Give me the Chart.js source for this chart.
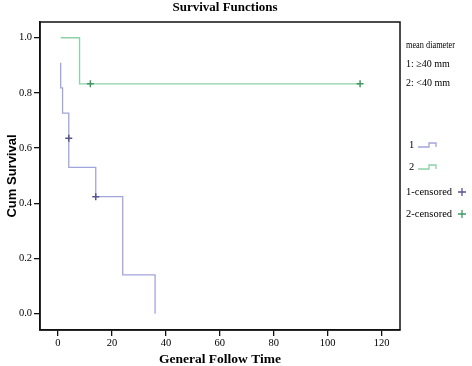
<!DOCTYPE html>
<html>
<head>
<meta charset="utf-8">
<script src="https://cdn.jsdelivr.net/npm/chart.js@4"></script>
<style>
  html, body { margin: 0; padding: 0; background: #fff; }
  #wrap { width: 472px; height: 366px; }
</style>
</head>
<body>
<div id="wrap"><canvas id="survivalChart" width="472" height="366"></canvas></div>
<script>
// Kaplan-Meier step vertices
const group1Time = [1, 1, 1.7, 4, 14, 24, 36];
const group1Surv = [0.909, 0.818, 0.727, 0.53, 0.424, 0.141, 0];
const group2Time = [1, 8, 112];
const group2Surv = [1, 0.833, 0.833];

// censored observations
const cens1Time = [4, 14];
const cens1Surv = [0.636, 0.424];
const cens2Time = [12, 112];
const cens2Surv = [0.833, 0.833];

// tick labels
const xTicks = [0, 20, 40, 60, 80, 100, 120];
const yTicks = [0, 0.2, 0.4, 0.6, 0.8, 1.0];

const legendTitle = ["mean diameter", "1: \u226540 mm", "2: <40 mm"];

const blueLine = "#a2a5db";
const greenLine = "#8dd1a6";
const blueMark = "#56558f";
const greenMark = "#3f9a60";

const pts = (xs, ys) => xs.map((x, i) => ({ x: x, y: ys[i] }));

const serif = "'Liberation Serif', 'Times New Roman', serif";

// frame, title and the SPSS-like legend on the right
const extras = {
  id: 'extras',
  afterDraw(chart) {
    const { ctx, chartArea: a } = chart;
    ctx.save();
    ctx.strokeStyle = '#111';
    ctx.lineWidth = 1.5;
    ctx.strokeRect(a.left, a.top, a.right - a.left, a.bottom - a.top);

    ctx.fillStyle = '#000';
    ctx.textBaseline = 'middle';
    ctx.textAlign = 'center';
    ctx.font = "bold 13px " + serif;
    ctx.fillText("Survival Functions", 225, 8);

    ctx.textAlign = 'left';
    ctx.font = "10px " + serif;
    ctx.fillText(legendTitle[0], 406, 45, 49);
    ctx.fillText(legendTitle[1], 406, 64, 49);
    ctx.fillText(legendTitle[2], 406, 83, 49);

    ctx.font = "10.5px " + serif;
    const rows = [
      { label: "1", y: 145, color: blueLine, kind: 'line' },
      { label: "2", y: 167, color: greenLine, kind: 'line' },
      { label: "1-censored", y: 192, color: blueMark, kind: 'cross' },
      { label: "2-censored", y: 214, color: greenMark, kind: 'cross' }
    ];
    rows.forEach(r => {
      ctx.fillStyle = '#000';
      ctx.fillText(r.label, r.kind === 'line' ? 409 : 406, r.y);
      ctx.strokeStyle = r.color;
      ctx.lineWidth = 1.3;
      ctx.beginPath();
      if (r.kind === 'line') {
        ctx.moveTo(418, r.y + 2);
        ctx.lineTo(429, r.y + 2);
        ctx.lineTo(429, r.y - 2);
        ctx.lineTo(436, r.y - 2);
        ctx.lineTo(436, r.y + 2);
      } else {
        ctx.moveTo(458, r.y);
        ctx.lineTo(466, r.y);
        ctx.moveTo(462, r.y - 4);
        ctx.lineTo(462, r.y + 4);
      }
      ctx.stroke();
    });
    ctx.restore();
  }
};

const config = {
  type: 'scatter',
  data: {
    datasets: [
      {
        label: "1-censored",
        data: pts(cens1Time, cens1Surv),
        showLine: false,
        pointStyle: 'cross',
        pointRadius: 3.5,
        borderWidth: 1.5,
        borderColor: blueMark
      },
      {
        label: "2-censored",
        data: pts(cens2Time, cens2Surv),
        showLine: false,
        pointStyle: 'cross',
        pointRadius: 3.5,
        borderWidth: 1.5,
        borderColor: greenMark
      },
      {
        label: "1",
        data: pts(group1Time, group1Surv),
        showLine: true,
        stepped: true,
        pointRadius: 0,
        borderWidth: 1.3,
        borderColor: blueLine
      },
      {
        label: "2",
        data: pts(group2Time, group2Surv),
        showLine: true,
        stepped: true,
        pointRadius: 0,
        borderWidth: 1.3,
        borderColor: greenLine
      }
    ]
  },
  options: {
    responsive: false,
    animation: false,
    layout: { padding: { top: 22, right: 72, left: 0, bottom: 0 } },
    plugins: {
      legend: { display: false },
      tooltip: { enabled: false },
      title: { display: false }
    },
    scales: {
      x: {
        type: 'linear',
        min: -6.67,
        max: 126.8,
        afterBuildTicks: s => { s.ticks = xTicks.map(v => ({ value: v })); },
        afterFit: s => { s.height = 36; },
        grid: { drawOnChartArea: false, drawTicks: true, tickLength: 6, color: '#111', lineWidth: 1.3 },
        border: { display: true, color: '#111', width: 1.5 },
        ticks: {
          padding: 1,
          color: '#000',
          maxRotation: 0,
          font: { family: serif, size: 10.5 },
          callback: v => String(v)
        },
        title: {
          display: true,
          text: "General Follow Time",
          color: '#000',
          padding: 0,
          font: { family: serif, size: 13.5, weight: 'bold', lineHeight: 1 }
        }
      },
      y: {
        type: 'linear',
        min: -0.059,
        max: 1.057,
        afterBuildTicks: s => { s.ticks = yTicks.map(v => ({ value: v })); },
        afterFit: s => { s.width = 40; },
        grid: { drawOnChartArea: false, drawTicks: true, tickLength: 6, color: '#111', lineWidth: 1.3 },
        border: { display: true, color: '#111', width: 1.5 },
        ticks: {
          padding: 2,
          color: '#000',
          font: { family: serif, size: 10.5 },
          callback: v => v.toFixed(1)
        },
        title: {
          display: true,
          text: "Cum Survival",
          color: '#000',
          padding: { top: 5.5, bottom: 0 },
          font: { family: "'Liberation Sans', Arial, sans-serif", size: 13, weight: 'bold', lineHeight: 1 }
        }
      }
    }
  },
  plugins: [extras]
};

window.addEventListener('DOMContentLoaded', () => {
  new Chart(document.getElementById("survivalChart"), config);
});
</script>
</body>
</html>
